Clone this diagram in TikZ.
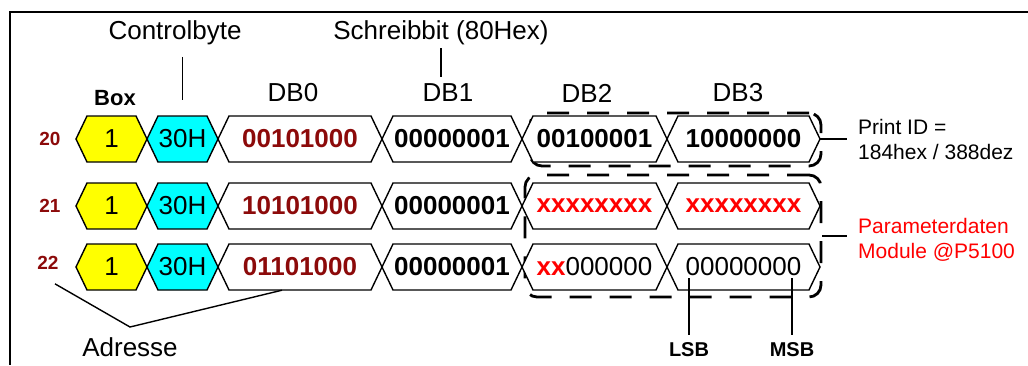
\documentclass[tikz,border=0pt]{standalone}
\usepackage{fontspec}
\setmainfont{Liberation Sans}
\usetikzlibrary{calc}
\definecolor{dred}{RGB}{140,10,10}
\definecolor{hexyellow}{RGB}{255,255,0}
\definecolor{hexcyan}{RGB}{0,255,255}

\tikzset{
  cellline/.style={line width=1.4pt, line join=miter},
  celltext/.style={inner sep=0pt, font=\fontsize{26}{30}\selectfont},
  headlbl/.style={font=\fontsize{26}{30}\selectfont, inner sep=0pt},
  boxlbl/.style={font=\fontsize{22}{26}\selectfont\bfseries, inner sep=0pt},
  rowlbl/.style={font=\fontsize{19}{22}\selectfont\bfseries, text=dred, inner sep=0pt},
  sidelbl/.style={font=\fontsize{21}{25}\selectfont, align=left, anchor=west, inner sep=0pt},
  bitlbl/.style={font=\fontsize{20}{24}\selectfont\bfseries, inner sep=0pt},
  grpbox/.style={draw, line width=2.8pt, dash pattern=on 22pt off 18pt, rounded corners=12pt, inner sep=0pt},
  lead/.style={line width=1.4pt},
  frameline/.style={line width=1.6pt},
}

% one telegram byte: name, left tip, right tip, row centre, fill, text
\newcommand\hexcell[6]{%
  \draw[cellline, fill=#5] (#2,#4) -- (#2+11,#4-23) -- (#3-11,#4-23) -- (#3,#4)
        -- (#3-11,#4+23) -- (#2+11,#4+23) -- cycle;
  \node[celltext, minimum width={(#3-#2)*1pt}, minimum height=46pt] (#1) at ({(#2+#3)/2},#4) {#6};
}

\begin{document}
\begin{tikzpicture}[x=1pt, y=-1pt]
\useasboundingbox (0,0) rectangle (1028,365);

% outer frame
\draw[frameline] (1028,12) -- (10,12) -- (10,365);

% column headings
\node[headlbl] (ctl) at (175,33) {Controlbyte};
\node[headlbl] (sbit) at (441,33) {Schreibbit (80Hex)};
\node[boxlbl] (boxh) at (115,98) {Box};
\node[headlbl] (h0) at (293,93) {DB0};
\node[headlbl] (h1) at (448,93) {DB1};
\node[headlbl] (h2) at (587,93) {DB2};
\node[headlbl] (h3) at (738,93) {DB3};

% row addresses
\node[rowlbl] (a20) at (50,139) {20};
\node[rowlbl] (a21) at (50,206) {21};
\node[rowlbl] (a22) at (48,263) {22};

% dashed groups, lying behind the byte cells
\node[grpbox, minimum width=291pt, minimum height=53pt] (g1) at (675.5,139.5) {};
\node[grpbox, minimum width=296pt, minimum height=122pt] (g2) at (673,236) {};

% row 20
\hexcell{bx1}{76}{147}{139}{hexyellow}{1}
\hexcell{cb1}{147}{218}{139}{hexcyan}{30H}
\hexcell{d0r1}{218}{382}{139}{white}{\bfseries\color{dred}00101000}
\hexcell{d1r1}{382}{522}{139}{white}{\bfseries 00000001}
\hexcell{d2r1}{522}{667}{139}{white}{\bfseries 00100001}
\hexcell{d3r1}{667}{820}{139}{white}{\bfseries 10000000}

% row 21
\hexcell{bx2}{76}{147}{206}{hexyellow}{1}
\hexcell{cb2}{147}{218}{206}{hexcyan}{30H}
\hexcell{d0r2}{218}{382}{206}{white}{\bfseries\color{dred}10101000}
\hexcell{d1r2}{382}{522}{206}{white}{\bfseries 00000001}
\hexcell{d2r2}{522}{667}{206}{white}{\bfseries\color{red}xxxxxxxx}
\hexcell{d3r2}{667}{820}{206}{white}{\bfseries\color{red}xxxxxxxx}

% row 22
\hexcell{bx3}{76}{147}{267}{hexyellow}{1}
\hexcell{cb3}{147}{218}{267}{hexcyan}{30H}
\hexcell{d0r3}{218}{382}{267}{white}{\bfseries\color{dred}01101000}
\hexcell{d1r3}{382}{522}{267}{white}{\bfseries 00000001}
\hexcell{d2r3}{522}{667}{267}{white}{{\bfseries\color{red}xx}000000}
\hexcell{d3r3}{667}{820}{267}{white}{00000000}

% side notes
\node[sidelbl] (pid) at (858,139) {Print ID =\\184hex / 388dez};
\node[sidelbl, text=red] (par) at (858,240) {Parameterdaten\\Module @P5100};
\draw[lead] (d3r1.east) -- (847,139);
\draw[lead] (g2.east) -- (847,236);

% leader lines of the headings
\draw[lead] ($(cb1.north)+(0,-59)$) -- ($(cb1.north)+(0,-16)$);
\draw[lead] ([yshift=-3pt]sbit.south) -- ++(0,29);

% address leader
\node[headlbl] (adr) at (130,347) {Adresse};
\coordinate (adrk) at (130,327);
\draw[lead] ($(a22.south)+(7,14)$) -- (adrk) -- (d0r3.south -| 282,0);

% bit order
\node[bitlbl] (lsb) at (689,350) {LSB};
\node[bitlbl] (msb) at (792,350) {MSB};
\draw[lead] ([yshift=8pt]lsb.north) -- (lsb.north |- 0,278);
\draw[lead] ([yshift=8pt]msb.north) -- (msb.north |- 0,278);
\end{tikzpicture}
\end{document}
